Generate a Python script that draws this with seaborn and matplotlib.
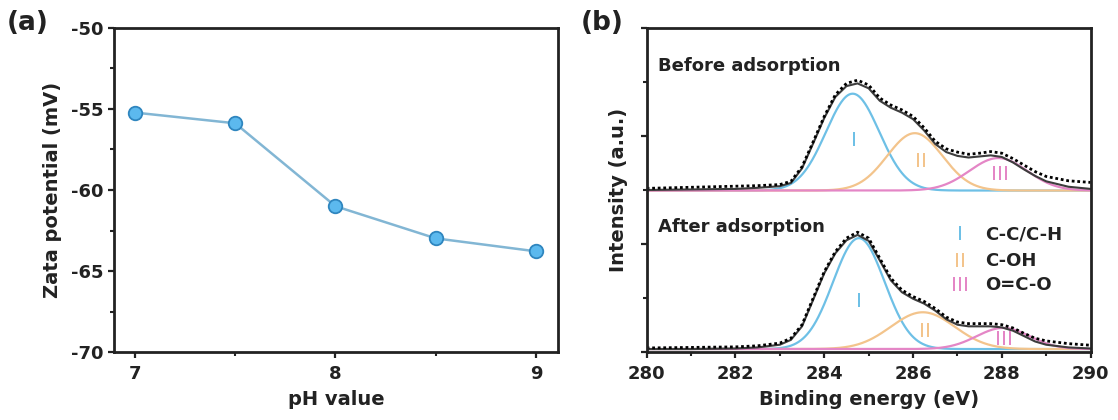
import numpy as np
import pandas as pd
import matplotlib
matplotlib.use("Agg")
import matplotlib.pyplot as plt
from matplotlib.ticker import MultipleLocator
import seaborn as sns

# ---------------- data ----------------
ph_values = [7.0, 7.5, 8.0, 8.5, 9.0]
zeta_mv = [-55.23, -55.89, -61.0, -62.98, -63.78]

component_names = ["C-C/C-H", "C-OH", "O=C-O"]
component_marks = ["I", "II", "III"]

# fitted peak parameters (intensity in tick units)
before_centers = [284.64, 286.04, 287.92]
before_heights = [1.79, 1.06, 0.60]
before_sigmas = [0.60, 0.62, 0.65]
before_baseline = 2.99

after_centers = [284.78, 286.22, 288.03]
after_heights = [2.05, 0.68, 0.39]
after_sigmas = [0.58, 0.72, 0.60]
after_baseline = 0.06

raw_energy = [280.0, 281.0, 282.0, 282.5, 283.0, 283.25, 283.5, 283.75, 284.0,
              284.25, 284.5, 284.75, 285.0, 285.25, 285.5, 285.75, 286.0,
              286.25, 286.5, 286.75, 287.0, 287.25, 287.5, 287.75, 288.0,
              288.25, 288.5, 288.75, 289.0, 289.5, 290.0]
raw_before = [3.03, 3.05, 3.07, 3.08, 3.10, 3.16, 3.43, 3.89, 4.36,
              4.76, 4.97, 5.03, 4.94, 4.70, 4.57, 4.48, 4.36,
              4.15, 3.90, 3.76, 3.70, 3.66, 3.68, 3.71, 3.68,
              3.58, 3.46, 3.34, 3.25, 3.17, 3.14]
fit_before = [3.00, 3.01, 3.02, 3.04, 3.07, 3.13, 3.40, 3.86, 4.33,
              4.72, 4.92, 4.97, 4.88, 4.65, 4.52, 4.43, 4.31,
              4.10, 3.85, 3.70, 3.63, 3.60, 3.62, 3.64, 3.61,
              3.51, 3.38, 3.26, 3.16, 3.06, 3.02]
raw_after = [0.08, 0.09, 0.10, 0.12, 0.17, 0.26, 0.51, 1.00, 1.49,
             1.86, 2.11, 2.22, 2.11, 1.74, 1.37, 1.15, 1.03,
             0.94, 0.81, 0.65, 0.56, 0.53, 0.53, 0.53, 0.51,
             0.45, 0.35, 0.26, 0.21, 0.16, 0.13]
fit_after = [0.06, 0.06, 0.07, 0.09, 0.14, 0.23, 0.48, 0.97, 1.46,
             1.83, 2.07, 2.17, 2.06, 1.70, 1.33, 1.11, 0.99,
             0.90, 0.77, 0.61, 0.51, 0.48, 0.48, 0.48, 0.46,
             0.40, 0.30, 0.20, 0.14, 0.09, 0.07]

comp_colors = ["#6ec0e6", "#f3c48c", "#e486c6"]

# ---------------- style ----------------
sns.set_theme(style="ticks")
plt.rcParams["font.family"] = ["DejaVu Sans"]
plt.rcParams["font.weight"] = "bold"
plt.rcParams["axes.labelweight"] = "bold"
plt.rcParams["axes.linewidth"] = 2.0
plt.rcParams["xtick.major.width"] = 1.6
plt.rcParams["ytick.major.width"] = 1.6
plt.rcParams["xtick.minor.width"] = 1.5
plt.rcParams["ytick.minor.width"] = 1.5
plt.rcParams["xtick.major.size"] = 4.5
plt.rcParams["ytick.major.size"] = 4.5
plt.rcParams["xtick.minor.size"] = 3
plt.rcParams["ytick.minor.size"] = 3
for k in ["axes.edgecolor", "xtick.color", "ytick.color", "text.color", "axes.labelcolor"]:
    plt.rcParams[k] = "#222222"

fig = plt.figure(figsize=(11.18, 4.2), dpi=100)
ax1 = fig.add_axes([0.1022, 0.1612, 0.3966, 0.7729])
ax2 = fig.add_axes([0.5784, 0.1612, 0.3971, 0.7729])

# ---------------- panel (a) ----------------
df_a = pd.DataFrame({"pH": ph_values, "zeta": zeta_mv})
sns.lineplot(data=df_a, x="pH", y="zeta", ax=ax1, color="#82b6d4", lw=1.8)
sns.scatterplot(data=df_a, x="pH", y="zeta", ax=ax1, s=95, color="#5cb9ee",
                edgecolor="#2f86bf", linewidth=1.3, zorder=3)
ax1.set_xlim(6.897, 9.108)
ax1.set_ylim(-70, -50)
ax1.set_xticks([7, 8, 9])
ax1.xaxis.set_minor_locator(MultipleLocator(0.5))
ax1.yaxis.set_minor_locator(MultipleLocator(2.5))
ax1.set_yticks([-70, -65, -60, -55, -50])
ax1.set_yticklabels([str(v) for v in [-70, -65, -60, -55, -50]])
ax1.set_xlabel("pH value", fontsize=14, labelpad=5)
ax1.set_ylabel("Zata potential (mV)", fontsize=14, labelpad=7)
ax1.tick_params(labelsize=13, direction="out", pad=3)
ax1.tick_params(axis="x", pad=5)
fig.text(0.0246, 0.945, "(a)", fontsize=19, fontweight="bold", ha="center", va="center")

# ---------------- panel (b) ----------------
energy = np.linspace(280, 290, 601)


def gauss(c, h, s):
    return h * np.exp(-((energy - c) ** 2) / (2 * s ** 2))


for centers, heights, sigmas, base in [
    (before_centers, before_heights, before_sigmas, before_baseline),
    (after_centers, after_heights, after_sigmas, after_baseline),
]:
    for c, h, s, col in zip(centers, heights, sigmas, comp_colors):
        sns.lineplot(x=energy, y=base + gauss(c, h, s), ax=ax2, color=col, lw=1.6)

for fit in [fit_before, fit_after]:
    sns.lineplot(x=raw_energy, y=fit, ax=ax2, color="#3d3d3d", lw=1.5)
for raw in [raw_before, raw_after]:
    sns.lineplot(x=raw_energy, y=raw, ax=ax2, color="black", lw=2.0,
                 linestyle=(0, (1, 1)))

ax2.set_xlim(280, 290)
ax2.set_ylim(0, 6)
ax2.xaxis.set_major_locator(MultipleLocator(2))
ax2.xaxis.set_minor_locator(MultipleLocator(1))
ax2.yaxis.set_major_locator(MultipleLocator(2))
ax2.yaxis.set_minor_locator(MultipleLocator(1))
ax2.set_yticklabels([])
ax2.set_xlabel("Binding energy (eV)", fontsize=14, labelpad=5)
ax2.set_ylabel("Intensity (a.u.)", fontsize=14, labelpad=6)
ax2.tick_params(labelsize=13, direction="out", pad=3)
ax2.tick_params(axis="x", pad=5)

ax2.text(280.26, 5.3, "Before adsorption", fontsize=13, fontweight="bold", va="center")
ax2.text(280.26, 2.32, "After adsorption", fontsize=13, fontweight="bold", va="center")

before_mark_pos = [(284.67, 3.92), (286.17, 3.52), (287.97, 3.28)]
after_mark_pos = [(284.79, 0.94), (286.27, 0.39), (288.05, 0.23)]
for pos_list in [before_mark_pos, after_mark_pos]:
    for (x, y), mk, col in zip(pos_list, component_marks, comp_colors):
        ax2.text(x, y, mk, color=col, fontsize=14.5, fontweight="normal",
                 ha="center", va="center")

legend_y = [2.17, 1.68, 1.24]
for y, mk, name, col in zip(legend_y, component_marks, component_names, comp_colors):
    ax2.text(287.05, y, mk, color=col, fontsize=14.5, fontweight="normal",
             ha="center", va="center")
    ax2.text(287.62, y, name, color="#222222", fontsize=13, fontweight="bold",
             ha="left", va="center")

fig.text(0.5385, 0.945, "(b)", fontsize=19, fontweight="bold", ha="center", va="center")

fig.savefig("out.png", dpi=100)
